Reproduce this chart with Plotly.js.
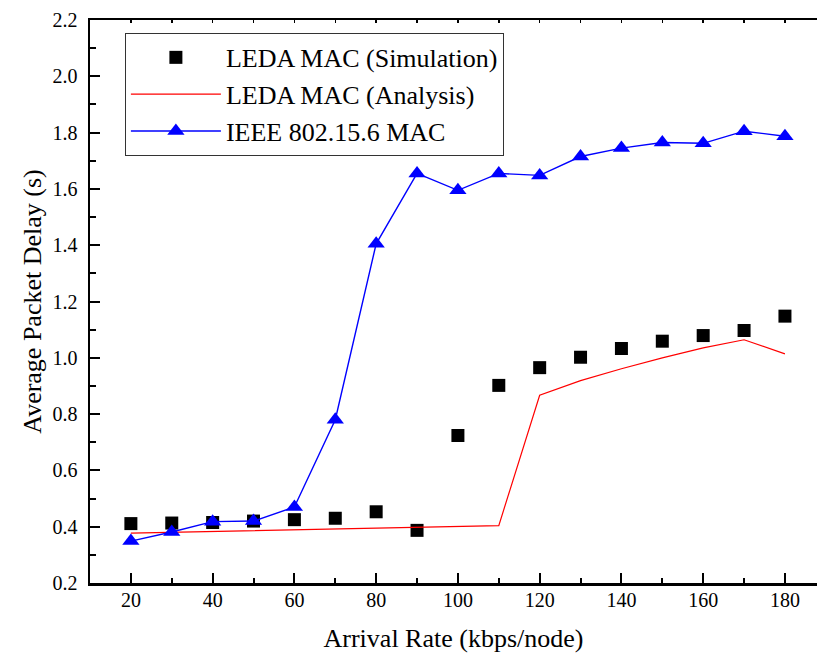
<!DOCTYPE html>
<html>
<head>
<meta charset="utf-8">
<script src="https://cdn.plot.ly/plotly-3.0.1.min.js"></script>
<style>html,body{margin:0;padding:0;overflow:hidden;background:#fff}</style>
</head>
<body>
<div id="chart" style="width:817px;height:657px"></div>
<script>
var arrivalRate = [20, 30, 40, 50, 60, 70, 80, 90, 100, 110, 120, 130, 140, 150, 160, 170, 180];
var ledaSimulation = [0.411, 0.413, 0.415, 0.420, 0.425, 0.430, 0.453, 0.387, 0.724, 0.902, 0.965, 1.002, 1.033, 1.059, 1.079, 1.097, 1.148];
var ledaAnalysis = [0.377, 0.380, 0.383, 0.386, 0.389, 0.392, 0.395, 0.398, 0.401, 0.404, 0.867, 0.919, 0.961, 1.000, 1.035, 1.064, 1.014];
var ieeeMac = [0.349, 0.381, 0.418, 0.420, 0.470, 0.780, 1.405, 1.655, 1.595, 1.655, 1.648, 1.715, 1.745, 1.765, 1.762, 1.805, 1.787];

var serif = 'Liberation Serif, Times New Roman, serif';

var traces = [
  {x: arrivalRate, y: ledaSimulation, name: 'LEDA MAC (Simulation)', mode: 'markers', type: 'scatter',
   marker: {symbol: 'square', size: 13, color: '#000000'}},
  {x: arrivalRate, y: ledaAnalysis, name: 'LEDA MAC (Analysis)', mode: 'lines', type: 'scatter',
   line: {color: '#ff0000', width: 1.2}},
  {x: arrivalRate, y: ieeeMac, name: 'IEEE 802.15.6 MAC', mode: 'lines+markers', type: 'scatter',
   line: {color: '#0000ff', width: 1.4}, marker: {symbol: 'triangle-up', size: 15, color: '#0000ff'}},
  {x: [], y: [], xaxis: 'x2', yaxis: 'y', showlegend: false, hoverinfo: 'skip', type: 'scatter'}
];

var layout = {
  width: 817, height: 657,
  margin: {l: 90, r: 0, t: 20, b: 74},
  paper_bgcolor: '#ffffff', plot_bgcolor: '#ffffff',
  font: {family: serif, color: '#000000', size: 20},
  showlegend: true,
  legend: {x: 0.048, y: 0.977, xanchor: 'left', yanchor: 'top',
           bgcolor: '#ffffff', bordercolor: '#333333', borderwidth: 1,
           font: {family: serif, size: 26, color: '#000000'}, itemwidth: 90, tracegroupgap: 0},
  xaxis: {range: [10, 187.84], showgrid: false, zeroline: false, showline: true, linecolor: '#000', linewidth: 2.5,
          ticks: 'inside', ticklen: 10, tickwidth: 2, tickcolor: '#000', dtick: 20, tick0: 0,
          minor: {ticks: 'inside', ticklen: 5, tickwidth: 2, tickcolor: '#000', dtick: 10, tick0: 0, showgrid: false},
          tickfont: {family: serif, size: 20}, ticklabelstandoff: -3,
          title: {text: 'Arrival Rate (kbps/node)', font: {family: serif, size: 26}, standoff: 20}},
  xaxis2: {overlaying: 'x', side: 'top', range: [10, 187.84], showgrid: false, zeroline: false, showline: true,
           linecolor: '#000', linewidth: 2.5, ticks: 'inside', ticklen: 3, tickwidth: 1.5, tickcolor: '#000',
           dtick: 10, tick0: 0, showticklabels: false},
  yaxis: {range: [0.2, 2.2], showgrid: false, zeroline: false, showline: true, linecolor: '#000', linewidth: 2.5,
          ticks: 'inside', ticklen: 10, tickwidth: 2, tickcolor: '#000', dtick: 0.2, tick0: 0.2, tickformat: '.1f',
          minor: {ticks: 'inside', ticklen: 6, tickwidth: 2, tickcolor: '#000', dtick: 0.1, showgrid: false},
          tickfont: {family: serif, size: 20}, ticklabelstandoff: 6,
          title: {text: 'Average Packet Delay (s)', font: {family: serif, size: 26}, standoff: 4}}
};

Plotly.newPlot('chart', traces, layout, {displayModeBar: false, staticPlot: true});
</script>
</body>
</html>
